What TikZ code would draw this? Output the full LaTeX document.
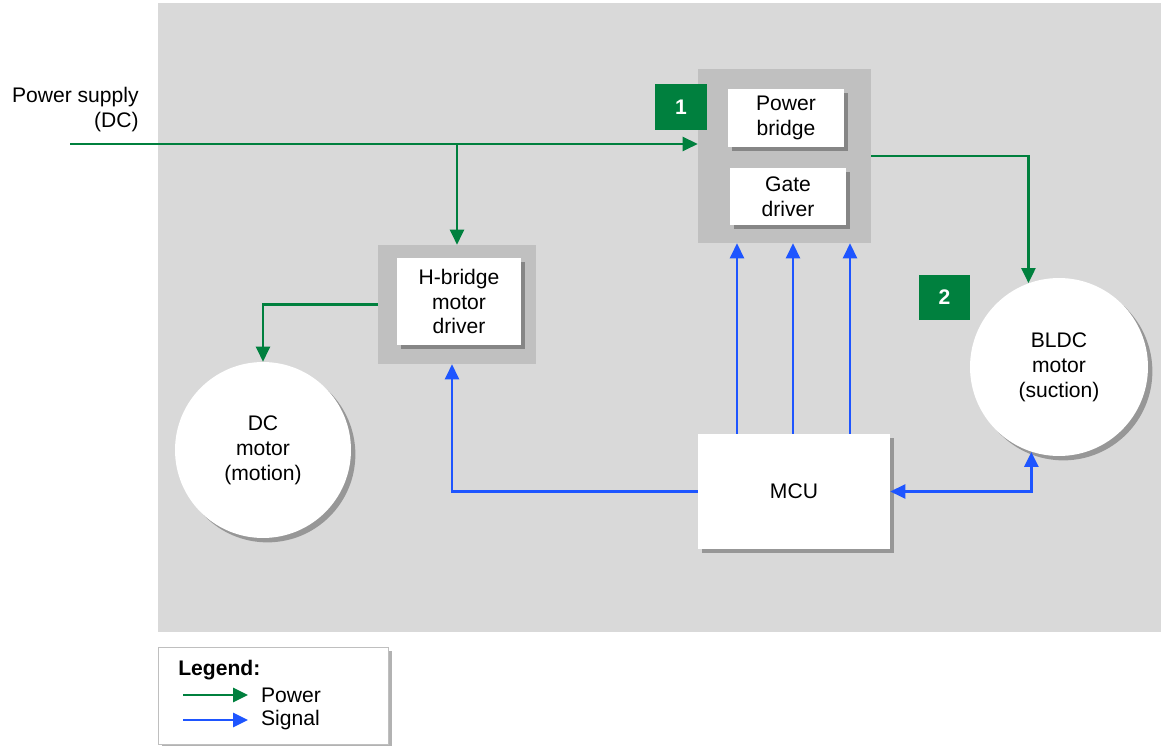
\documentclass[tikz,border=0pt]{standalone}
\usepackage{fontspec}
\setmainfont{Liberation Sans}
\usetikzlibrary{arrows.meta,shadows}

\definecolor{pgreen}{RGB}{0,128,62}
\definecolor{sblue}{RGB}{30,85,255}
\definecolor{bggray}{RGB}{217,217,217}
\definecolor{boxgray}{RGB}{192,192,192}

\begin{document}
\begin{tikzpicture}[x=0.02cm, y=-0.02cm,
		every node/.style={font=\fontsize{12}{14.2}\selectfont, align=center, inner sep=0pt, text=black},
		shad/.style={drop shadow={shadow xshift=2.5pt, shadow yshift=-2.5pt, fill=black, opacity=0.3}},
		outbox/.style={fill=boxgray},
		inbox/.style={fill=white, shad},
		motor/.style={circle, fill=white, shad},
		badge/.style={fill=pgreen, text=white, font=\fontsize{12}{14}\selectfont\bfseries},
		pwr/.style={pgreen, line width=1.3pt, -{Triangle[length=8.5pt, width=8pt]}},
		sig/.style={sblue, line width=1.3pt, -{Triangle[length=8.5pt, width=8pt]}}]
			\useasboundingbox (0,0) rectangle (1161,746);
			\fill[bggray] (158,3) rectangle (1161,632);
			
			% blocks
			\node[outbox, minimum width=3.46cm, minimum height=3.48cm] (pbox) at (784.5,156) {};
			\node[inbox, minimum width=2.32cm, minimum height=1.16cm] (pb) at (786,118) {Power\\bridge};
			\node[inbox, minimum width=2.32cm, minimum height=1.14cm] (gd) at (788,196.5) {Gate\\driver};
			\node[badge, minimum width=1.04cm, minimum height=0.92cm] (b1) at (681,107) {1};
			
			\node[outbox, minimum width=3.16cm, minimum height=2.38cm] (hbox) at (457,304.5) {};
			\node[inbox, minimum width=2.48cm, minimum height=1.74cm] (hb) at (459,301.5) {H-bridge\\motor\\driver};
			
			\node[motor, minimum size=3.52cm] (dcm) at (263,450) {DC\\motor\\(motion)};
			\node[motor, minimum size=3.56cm] (bldc) at (1059,367) {BLDC\\motor\\(suction)};
			\node[badge, minimum width=1.02cm, minimum height=0.9cm] (b2) at (944.5,297.5) {2};
			
			\node[inbox, minimum width=3.84cm, minimum height=2.3cm] (mcu) at (794,491.5) {MCU};
			
			\node[anchor=east, align=right] (suptxt) at (139,110) {Power supply\\(DC)};
			\coordinate (sup) at (70,144);
			
			% power
			\draw[pwr] (sup) -- (sup -| pbox.west);
			\draw[pwr] (hbox.north |- sup) -- (hbox.north);
			\draw[pwr] (pbox.east) -| (bldc.110);
			\draw[pwr] (hbox.west) -| (dcm.north);
			
			% signal
			\foreach \dx in {-57,-1,56}
				\draw[sig] ([xshift=\dx*0.02cm]mcu.north) -- ([xshift=\dx*0.02cm]mcu.north |- pbox.south);
			\draw[sig] (mcu.west) -| ([xshift=-0.1cm]hbox.south);
			\draw[sig, {Triangle[length=8.5pt, width=8pt]}-{Triangle[length=8.5pt, width=8pt]}] (mcu.east) -| (bldc.252);
			
			% legend
			\node[fill=white, draw=black!25, shad, minimum width=4.6cm, minimum height=1.94cm] (leg) at (273,695.5) {};
			\node[anchor=west, font=\fontsize{12}{14.2}\selectfont\bfseries] (legt) at (178,670) {Legend:};
			\coordinate (lp1) at (183,695); \coordinate (lp2) at (248,695);
			\coordinate (ls1) at (183,720); \coordinate (ls2) at (248,720);
			\draw[pwr] (lp1) -- (lp2) node[right=12*0.02cm] (lpt) {Power};
			\draw[sig] (ls1) -- (ls2) node[right=12*0.02cm] (lst) {Signal};
		\end{tikzpicture}
\end{document}
